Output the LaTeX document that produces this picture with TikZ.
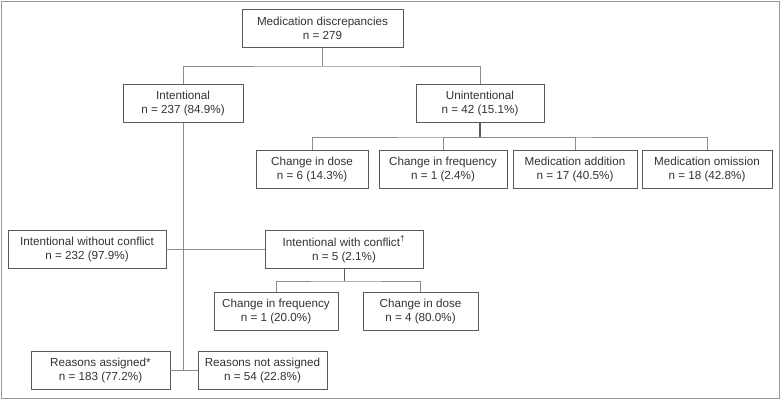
\documentclass[tikz,border=0pt]{standalone}
\usepackage{fontspec}
\setmainfont{Liberation Sans}
\usepackage{xcolor}
\definecolor{boxline}{HTML}{5A5A5A}
\definecolor{linkline}{HTML}{8C8C8C}
\definecolor{txt}{HTML}{333333}
\tikzset{
	cbox/.style={draw=boxline, semithick, fill=white, text=txt, align=center, inner sep=1pt,
		minimum height=28.5pt, font=\fontsize{8.75}{10.5}\selectfont},
	link/.style={draw=linkline, semithick}
}

\begin{document}
\begin{tikzpicture}[x=0.75pt, y=-0.75pt]
	\useasboundingbox (0,0) rectangle (781,400);
	\draw[draw=gray!80, semithick] (1,1) rectangle (779.5,398.5);
	
	\node[cbox, minimum width=120.75pt] (disc) at (322.5,28.5) {Medication discrepancies\\n = 279};
	\node[cbox, minimum width=90pt] (intent) at (183,103.5) {Intentional\\n = 237 (84.9\%)};
	\node[cbox, minimum width=96pt] (unint) at (480,103.5) {Unintentional\\n = 42 (15.1\%)};
	
	\node[cbox, minimum width=84pt] (udose) at (312,169) {Change in dose\\n = 6 (14.3\%)};
	\node[cbox, minimum width=96pt] (ufreq) at (443,169) {Change in frequency\\n = 1 (2.4\%)};
	\node[cbox, minimum width=93pt] (uadd) at (575,169) {Medication addition\\n = 17 (40.5\%)};
	\node[cbox, minimum width=97.5pt] (uomit) at (707,169) {Medication omission\\n = 18 (42.8\%)};
	
	\node[cbox, minimum width=118.5pt] (noconf) at (87,249) {Intentional without conflict\\n = 232 (97.9\%)};
	\node[cbox, minimum width=118.5pt] (conf) at (344,249) {Intentional with conflict\textsuperscript{\textdagger}\\n = 5 (2.1\%)};
	\node[cbox, minimum width=93pt] (cfreq) at (276,311.5) {Change in frequency\\n = 1 (20.0\%)};
	\node[cbox, minimum width=86.25pt] (cdose) at (420.5,311.5) {Change in dose\\n = 4 (80.0\%)};
	
	\node[cbox, minimum width=104.25pt] (reas) at (100.5,370.5) {Reasons assigned*\\n = 183 (77.2\%)};
	\node[cbox, minimum width=96.75pt] (noreas) at (262.5,370.5) {Reasons not assigned\\n = 54 (22.8\%)};
	
	\coordinate (j1) at (322.5,66);
	\coordinate (j2) at (480,137);
	\coordinate (j3) at (183,370.5);
	\coordinate (j4) at (344,281);
	
	\draw[link] (disc) -- (j1);
	\draw[link] (intent.north) |- (j1) -| (unint.north);
	\draw[draw=boxline, thick] (unint) -- (j2);
	\draw[link] (udose.north) |- (j2) -| (uomit.north);
	\draw[link] (ufreq.north) |- (j2);
	\draw[link] (uadd.north) |- (j2);
	\draw[link] (intent) -- (j3);
	\draw[link] (noconf) -- (conf);
	\draw[link] (reas) -- (noreas);
	\draw[draw=boxline, semithick] (conf) -- (j4);
	\draw[link] (cfreq.north) |- (j4) -| (cdose.north);
\end{tikzpicture}
\end{document}
